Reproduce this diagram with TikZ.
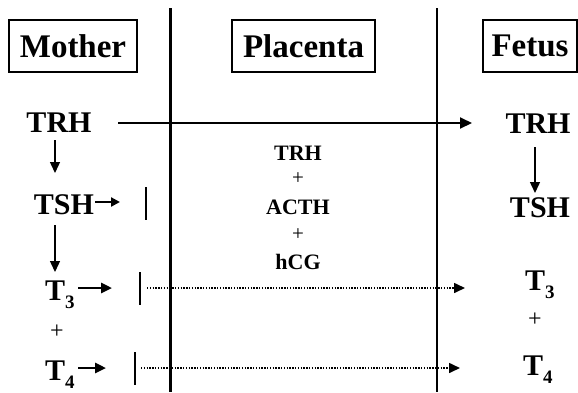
\documentclass[tikz,border=0pt]{standalone}
\usepackage{fontspec}
\setmainfont{Liberation Serif}
\usetikzlibrary{arrows.meta}
\begin{document}
\begin{tikzpicture}[x=1pt,y=-1pt,
  box/.style={draw,line width=1.8pt,inner sep=0pt,font=\bfseries\fontsize{33}{36}\selectfont,minimum height=52pt},
  big/.style={font=\bfseries\fontsize{30}{32}\selectfont,inner sep=0pt},
  mid/.style={font=\bfseries\fontsize{22}{24}\selectfont,inner sep=0pt},
  plus/.style={font=\fontsize{24}{26}\selectfont,inner sep=0pt},
  mplus/.style={font=\fontsize{21}{23}\selectfont,inner sep=0pt},
  divider/.style={line width=#1},
  longarrow/.style={line width=2pt,-{Triangle[length=12pt,width=11pt]}},
  downarrow/.style={line width=1.4pt,-{Triangle[length=11pt,width=10pt]}},
  shortarrow/.style={line width=2.6pt,-{Triangle[length=11pt,width=10pt]}},
  tinyarrow/.style={line width=2.4pt,-{Triangle[length=9pt,width=9pt]}},
  blockbar/.style={line width=2pt},
  dotarrow/.style={line width=1.6pt,dash pattern=on 1.4pt off 1.4pt,-{Triangle[length=11pt,width=10pt]}}
]
\useasboundingbox (0,0) rectangle (578,392);

% dividers
\coordinate (d1t) at (170,8); \coordinate (d1b) at (170,392);
\coordinate (d2t) at (437,8); \coordinate (d2b) at (437,392);
\draw[divider=3pt] (d1t) -- (d1b);
\draw[divider=2pt] (d2t) -- (d2b);

% header boxes
\node[box,minimum width=128pt] (mother) at (73,46) {Mother};
\node[box,minimum width=143pt] (placenta) at (303.5,46) {Placenta};
\node[box,minimum width=94pt] (fetus) at (530,46) {Fetus};

% mother column
\node[big] (mTRH) at (59,123) {TRH};
\node[big] (mTSH) at (64,205) {TSH};
\node[big,anchor=base west] (mT3) at (45,300) {T\raisebox{-8pt}{\fontsize{19}{20}\selectfont 3}};
\node[plus] (mP) at (57,332) {+};
\node[big,anchor=base west] (mT4) at (45,380) {T\raisebox{-8pt}{\fontsize{19}{20}\selectfont 4}};

% placenta column
\node[mid] (pTRH) at (298,153) {TRH};
\node[mplus] (pP1) at (298,179) {+};
\node[mid] (pACTH) at (298,207) {ACTH};
\node[mplus] (pP2) at (298,235) {+};
\node[mid] (phCG) at (298,262) {hCG};

% fetus column
\node[big] (fTRH) at (538,124) {TRH};
\node[big] (fTSH) at (540,208) {TSH};
\node[big,anchor=base west] (fT3) at (525,290) {T\raisebox{-8pt}{\fontsize{19}{20}\selectfont 3}};
\node[plus] (fP) at (535,320) {+};
\node[big,anchor=base west] (fT4) at (523,375) {T\raisebox{-8pt}{\fontsize{19}{20}\selectfont 4}};

% connector end points
\coordinate (trhS) at (118,123); \coordinate (trhE) at (472,123);
\coordinate (mdA1) at (55,140); \coordinate (mdA2) at (55,173);
\coordinate (mdB1) at (55,225); \coordinate (mdB2) at (55,272);
\coordinate (fdA1) at (535,147); \coordinate (fdA2) at (535,193);
\coordinate (tshS) at (95,202); \coordinate (tshE) at (120,202);
\coordinate (t3S) at (78,288); \coordinate (t3E) at (112,288);
\coordinate (t4S) at (78,368); \coordinate (t4E) at (106,368);
\coordinate (bar1t) at (146,187); \coordinate (bar1b) at (146,220);
\coordinate (bar2t) at (140,272); \coordinate (bar2b) at (140,305);
\coordinate (bar3t) at (135,352); \coordinate (bar3b) at (135,385);
\coordinate (dot3S) at (147,288); \coordinate (dot3E) at (465,288);
\coordinate (dot4S) at (141,368); \coordinate (dot4E) at (460,368);

\draw[longarrow] (trhS) -- (trhE);
\draw[downarrow] (mdA1) -- (mdA2);
\draw[downarrow] (mdB1) -- (mdB2);
\draw[downarrow] (fdA1) -- (fdA2);
\draw[tinyarrow] (tshS) -- (tshE);
\draw[shortarrow] (t3S) -- (t3E);
\draw[shortarrow] (t4S) -- (t4E);
\draw[blockbar] (bar1t) -- (bar1b);
\draw[blockbar] (bar2t) -- (bar2b);
\draw[blockbar] (bar3t) -- (bar3b);
\draw[dotarrow] (dot3S) -- (dot3E);
\draw[dotarrow] (dot4S) -- (dot4E);
\end{tikzpicture}
\end{document}
